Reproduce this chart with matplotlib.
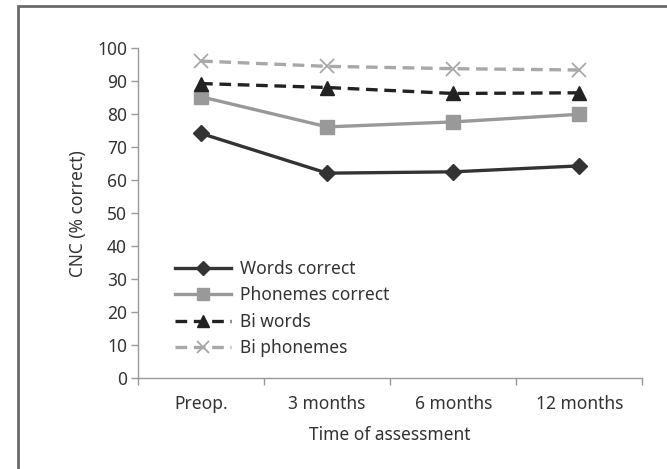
import matplotlib
matplotlib.use('Agg')
from matplotlib import pyplot as plt
from matplotlib.patches import Rectangle

plt.rcParams['font.family'] = ['Noto Sans', 'DejaVu Sans']

categories = ['Preop.', '3 months', '6 months', '12 months']
words_correct = [74.1, 62.1, 62.5, 64.3]
phonemes_correct = [85.2, 76.1, 77.6, 79.9]
bi_words = [89.2, 88.0, 86.2, 86.4]
bi_phonemes = [96.0, 94.4, 93.7, 93.3]

fig = plt.figure(figsize=(6.67, 4.69), dpi=100)
ax = fig.add_axes([0.207, 0.193, 0.756, 0.705])

# outer frame (runs off the right/bottom edge)
fig.patches.append(Rectangle((0.027, -0.05), 1.2, 1.037, transform=fig.transFigure,
                             fill=False, edgecolor='#6a6a6a', linewidth=2))

x = range(len(categories))
ax.plot(x, words_correct, color='#333333', lw=2.4, marker='D', ms=8,
        label='Words correct')
ax.plot(x, phonemes_correct, color='#999999', lw=2.4, marker='s', ms=10,
        label='Phonemes correct')
ax.plot(x, bi_words, color='#222222', lw=2.4, ls=(0, (3.5, 2)), marker='^', ms=10,
        label='Bi words')
ax.plot(x, bi_phonemes, color='#a8a8a8', lw=2.4, ls=(0, (3.5, 2)), marker='x', ms=10,
        mew=1.3, label='Bi phonemes')

ax.set_xlim(-0.5, 3.5)
ax.set_ylim(0, 100)
ax.set_yticks(range(0, 101, 10))
ax.set_xticks(list(x))
ax.set_xticklabels(categories)
ax.set_xticks([-0.5, 0.5, 1.5, 2.5, 3.5], minor=True)
ax.tick_params(axis='x', which='major', length=0, pad=12)
ax.tick_params(axis='x', which='minor', length=5, color='#999999', width=1)
ax.tick_params(axis='y', length=5, color='#999999', width=1, pad=3)
ax.tick_params(labelsize=12.5, labelcolor='#333333')

for s in ['top', 'right']:
    ax.spines[s].set_visible(False)
for s in ['left', 'bottom']:
    ax.spines[s].set_color('#999999')
    ax.spines[s].set_linewidth(1)

ax.set_xlabel('Time of assessment', fontsize=12.5, color='#333333', labelpad=9)
ax.set_ylabel('CNC (% correct)', fontsize=12.5, color='#333333', labelpad=7)

ax.legend(loc='upper left', bbox_to_anchor=(0.25, 0.464), bbox_transform=fig.transFigure,
          frameon=False, fontsize=12.5, handlelength=3.2, labelspacing=0.48,
          handletextpad=0.5, borderpad=0, labelcolor='#333333', markerscale=0.85)

fig.savefig('out.png', dpi=100)
